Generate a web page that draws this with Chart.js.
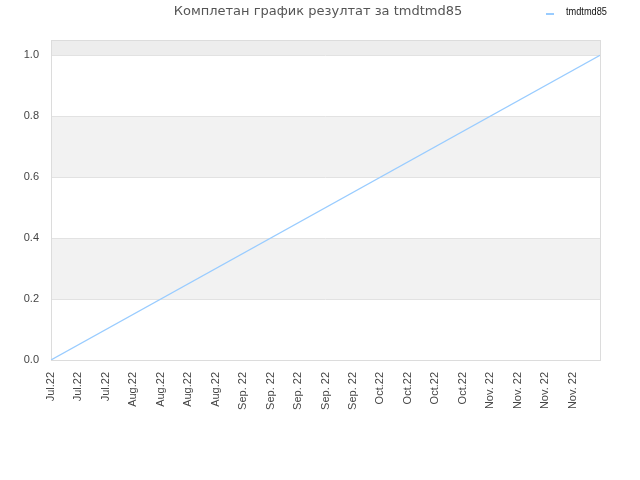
<!DOCTYPE html>
<html>
<head>
<meta charset="utf-8">
<script src="https://cdn.jsdelivr.net/npm/chart.js@4.4.1/dist/chart.umd.min.js"></script>
<style>
  html, body { margin: 0; padding: 0; background: #fff; }
  #wrap { width: 640px; height: 480px; }
</style>
</head>
<body>
<div id="wrap"><canvas id="chart_1" width="640" height="480"></canvas></div>
<script>
// month labels under the x axis, one per step
const month_labels = [
    "Jul.22", "Jul.22", "Jul.22",
    "Aug.22", "Aug.22", "Aug.22", "Aug.22",
    "Sep. 22", "Sep. 22", "Sep. 22", "Sep. 22", "Sep. 22",
    "Oct.22", "Oct.22", "Oct.22", "Oct.22",
    "Nov. 22", "Nov. 22", "Nov. 22", "Nov. 22"
]
// result line: start and end of the series
const steps = [0, 20]
const results = [0, 1]
const y_ticks = [0, 0.2, 0.4, 0.6, 0.8, 1.0]

const title_text = "Комплетан график резултат за tmdtmd85"
const series_name = "tmdtmd85"

const bands = {
    id: "bands",
    beforeDatasetsDraw(chart){
        const ctx = chart.ctx
        const a = chart.chartArea
        const y = chart.scales.y
        const fills = [[0.2, 0.4, "#f2f2f2"], [0.6, 0.8, "#f2f2f2"], [1.0, 1.05, "#ededed"]]
        ctx.save()
        for(let f of fills){
            let top = y.getPixelForValue(f[1])
            let bot = y.getPixelForValue(f[0])
            ctx.fillStyle = f[2]
            ctx.fillRect(a.left, top, a.right - a.left, bot - top)
        }
        // horizontal lines at ticks
        ctx.strokeStyle = "#e2e2e2"
        ctx.lineWidth = 1
        for(let v of y_ticks){
            let py = Math.round(y.getPixelForValue(v)) + 0.5
            ctx.beginPath()
            ctx.moveTo(a.left, py)
            ctx.lineTo(a.right, py)
            ctx.stroke()
        }
        ctx.strokeStyle = "#dcdcdc"
        ctx.strokeRect(Math.round(a.left) + 0.5, Math.round(a.top) + 0.5, Math.round(a.right - a.left), Math.round(a.bottom - a.top))
        ctx.restore()
    },
    afterDraw(chart){
        const ctx = chart.ctx
        ctx.save()
        ctx.font = "13px 'DejaVu Sans'"
        ctx.fillStyle = "#555"
        ctx.textAlign = "center"
        ctx.textBaseline = "middle"
        ctx.fillText(title_text, 318, 12)
        ctx.strokeStyle = "#99ccff"
        ctx.lineWidth = 2
        ctx.beginPath()
        ctx.moveTo(546, 14)
        ctx.lineTo(554, 14)
        ctx.stroke()
        // legend label is set in a narrow face in the original
        ctx.font = "11px 'Liberation Sans'"
        ctx.fillStyle = "#111"
        ctx.textAlign = "left"
        let w = ctx.measureText(series_name).width
        ctx.translate(566, 12)
        ctx.scale(41 / w, 1)
        ctx.fillText(series_name, 0, 0)
        ctx.restore()
    }
}

const ctx_1 = document.getElementById("chart_1").getContext("2d")
const data_1 = {
    datasets: [
        {
            label: series_name,
            data: steps.map((s, i) => ({x: s, y: results[i]})),
            borderColor: "#99ccff",
            borderWidth: 1.2,
            pointRadius: 0,
            fill: false,
            tension: 0
        }
    ]
}
const config_1 = {
    type: "line",
    data: data_1,
    options: {
        responsive: false,
        animation: false,
        layout: { padding: { top: 40, right: 40, left: 0, bottom: 0 } },
        plugins: {
            legend: { display: false },
            title: { display: false },
            tooltip: { enabled: false }
        },
        scales: {
            x: {
                type: "linear",
                min: 0,
                max: 20,
                grid: { display: false, drawTicks: false },
                border: { display: false },
                afterFit(scale){ scale.height = 120 },
                ticks: {
                    stepSize: 1,
                    autoSkip: false,
                    maxRotation: 90,
                    minRotation: 90,
                    padding: 12,
                    color: "#444",
                    font: { family: "'Liberation Sans'", size: 11 },
                    callback: (v) => month_labels[v] || ""
                }
            },
            y: {
                min: 0,
                max: 1.05,
                grid: { display: false, drawTicks: false },
                border: { display: false },
                afterFit(scale){ scale.width = 51 },
                ticks: {
                    stepSize: 0.2,
                    includeBounds: false,
                    padding: 12,
                    color: "#444",
                    font: { family: "'Liberation Sans'", size: 11 },
                    callback: (v) => v.toFixed(1)
                }
            }
        }
    },
    plugins: [bands]
}
const chart_1 = new Chart(ctx_1, config_1)
</script>
</body>
</html>
